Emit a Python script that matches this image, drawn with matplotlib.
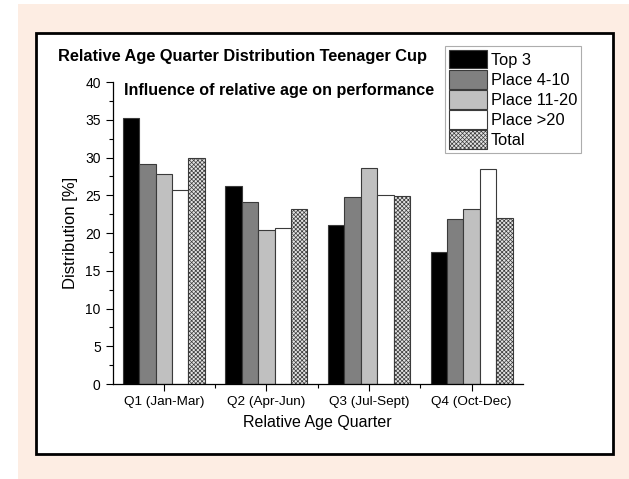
import numpy as np
import matplotlib.pyplot as plt
from matplotlib.patches import Rectangle, Patch

plt.rcParams['font.family'] = ['Liberation Sans', 'DejaVu Sans']
plt.rcParams['hatch.linewidth'] = 0.5

# Data
quarters = ['Q1 (Jan-Mar)', 'Q2 (Apr-Jun)', 'Q3 (Jul-Sept)', 'Q4 (Oct-Dec)']
series_names = ['Top 3', 'Place 4-10', 'Place 11-20', 'Place >20', 'Total']
top3 = [35.2, 26.2, 21.0, 17.5]
place_4_10 = [29.2, 24.1, 24.8, 21.8]
place_11_20 = [27.8, 20.4, 28.6, 23.2]
place_gt20 = [25.7, 20.7, 25.0, 28.5]
total = [29.9, 23.2, 24.9, 22.0]
series = [top3, place_4_10, place_11_20, place_gt20, total]

face = ['black', '#808080', '#c0c0c0', 'white', '#e4e4e4']
hatches = [None, None, None, None, 'xxxxxxxx']

fig = plt.figure(figsize=(6.29, 4.79), dpi=100)
W, H = 629, 479

# background: pink panel with a black frame
fig.patches.append(Rectangle((18 / W, 0), 1 - 18 / W, 1 - 4 / H, transform=fig.transFigure,
                             facecolor='#fdede3', edgecolor='none', zorder=-3))
fig.patches.append(Rectangle((36 / W, 1 - 454 / H), (613 - 36) / W, (454 - 33) / H,
                             transform=fig.transFigure, facecolor='white',
                             edgecolor='black', linewidth=2, zorder=-2))

ax = fig.add_axes([112.5 / W, 1 - 384 / H, (523 - 112.5) / W, (384 - 82) / H])
ax.patch.set_alpha(0)

x = np.arange(len(quarters))
bw = 0.16
for i, vals in enumerate(series):
    ax.bar(x + (i - 2) * bw, vals, bw, color=face[i], edgecolor='#3a3a3a',
           linewidth=0.8, hatch=hatches[i], label=series_names[i])

ax.set_xlim(-0.5, 3.5)
ax.set_ylim(0, 40)
ax.set_xticks(x)
ax.set_xticklabels(quarters, fontsize=9.7)
ax.set_xticks([0.5, 1.5, 2.5], minor=True)
ax.set_yticks(np.arange(0, 41, 5))
ax.set_yticks(np.arange(2.5, 40, 5), minor=True)
ax.tick_params(axis='y', labelsize=10)
ax.tick_params(which='major', length=5, width=0.8, direction='out')
ax.tick_params(which='minor', length=3, width=0.8, direction='out')
for s in ['top', 'right']:
    ax.spines[s].set_visible(False)
ax.spines['left'].set_linewidth(0.9)
ax.spines['bottom'].set_linewidth(0.9)

ax.set_ylabel('Distribution [%]', fontsize=12, labelpad=5)
ax.set_xlabel('Relative Age Quarter', fontsize=11.5, labelpad=5)

fig.text(58 / W, 1 - 57 / H, 'Relative Age Quarter Distribution Teenager Cup',
         fontsize=11.8, fontweight='bold', va='center', ha='left')
ax.text(124 / W, 1 - 90 / H, 'Influence of relative age on performance',
        transform=fig.transFigure, fontsize=11.6, fontweight='bold', va='center', ha='left')

handles = [Patch(facecolor=face[i], edgecolor='#3a3a3a', hatch=hatches[i], linewidth=0.8)
           for i in range(len(series_names))]
leg = fig.legend(handles, series_names, loc='upper left',
                 bbox_to_anchor=(445 / W, 1 - 46 / H), fontsize=11.8,
                 frameon=True, fancybox=False, edgecolor='#999999',
                 handlelength=2.3, handleheight=1.35, handletextpad=0.25,
                 labelspacing=0.1, borderpad=0.25, borderaxespad=0)
leg.get_frame().set_linewidth(0.8)

fig.savefig('out.png', dpi=100)
